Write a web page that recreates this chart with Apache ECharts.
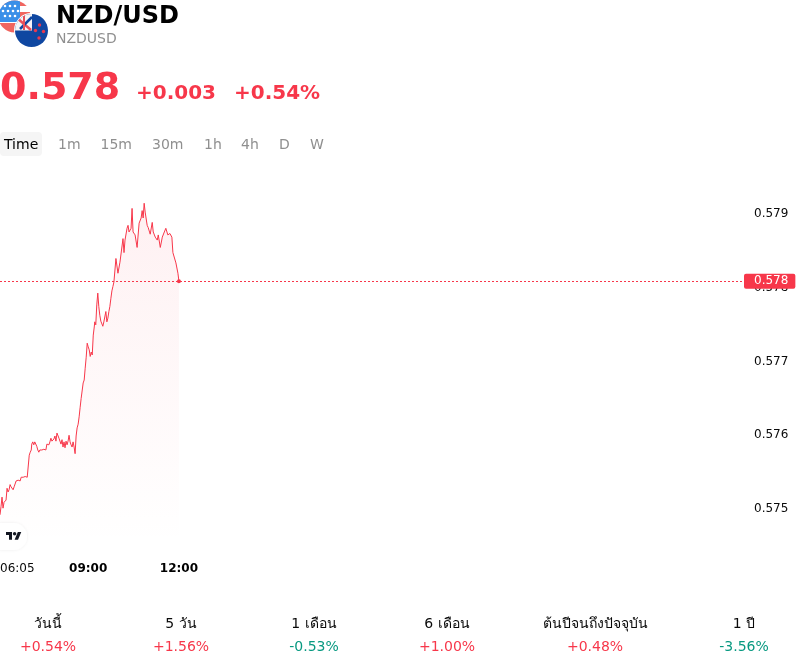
<!DOCTYPE html>
<html>
<head>
<meta charset="utf-8">
<title>NZD/USD</title>
<style>
  html, body { margin: 0; padding: 0; background: #fff; }
  #wrap { position: relative; width: 800px; height: 666px; overflow: hidden; }
  #chart { position: absolute; left: 0; top: 0; width: 800px; height: 666px; }
  .badge { position: absolute; left: 0; top: 0; pointer-events: none; }
</style>
<script src="https://cdn.jsdelivr.net/npm/echarts@6/dist/echarts.min.js"></script>
</head>
<body>
<div id="wrap">
  <div id="chart"></div>
  <!-- currency flags and the small brand badge on the chart corner -->
  <svg class="badge" width="60" height="60" viewBox="0 0 60 60">
    <defs>
      <clipPath id="usClip"><circle cx="14.5" cy="16.5" r="16"/></clipPath>
      <clipPath id="nzClip"><circle cx="31.5" cy="30.5" r="16.5"/></clipPath>
    </defs>
    <g clip-path="url(#usClip)">
      <rect x="-4" y="0" width="40" height="36" fill="#fff"/>
      <rect x="-4" y="0" width="40" height="6" fill="#f0655f"/>
      <rect x="-4" y="12" width="40" height="5" fill="#f0655f"/>
      <rect x="-4" y="23" width="40" height="10" fill="#f0655f"/>
      <rect x="-4" y="0" width="24" height="22" fill="#3a8fe8"/>
      <g fill="#fff">
        <circle cx="5" cy="6" r="1.3"/><circle cx="10" cy="6" r="1.3"/><circle cx="15" cy="6" r="1.3"/>
        <circle cx="3" cy="11" r="1.3"/><circle cx="8" cy="11" r="1.3"/><circle cx="13" cy="11" r="1.3"/><circle cx="18" cy="11" r="1.3"/>
        <circle cx="5" cy="16" r="1.3"/><circle cx="10" cy="16" r="1.3"/><circle cx="15" cy="16" r="1.3"/>
      </g>
    </g>
    <circle cx="31.5" cy="30.5" r="17.5" fill="#fff"/>
    <g clip-path="url(#nzClip)">
      <rect x="14" y="13" width="36" height="36" fill="#0f47a1"/>
      <rect x="14" y="13" width="18" height="17.5" fill="#f4f4f6"/>
      <path d="M17 18 L31 30" stroke="#e8505b" stroke-width="2.5"/>
      <path d="M32 17 L20 29" stroke="#0f47a1" stroke-width="2.5" fill="none"/>
      <path d="M24 14 V30" stroke="#e8505b" stroke-width="2"/>
      <g fill="#e8394e">
        <circle cx="39.5" cy="25" r="1.7"/><circle cx="35.5" cy="30.5" r="1.7"/>
        <circle cx="43.5" cy="31.5" r="1.7"/><circle cx="39" cy="38" r="1.7"/>
      </g>
    </g>
  </svg>
  <svg class="badge" style="top:516px;left:-6px;overflow:visible" width="36" height="40" viewBox="0 0 36 40">
    <defs>
      <filter id="soft" x="-30%" y="-30%" width="160%" height="160%"><feDropShadow dx="0" dy="0" stdDeviation="1.6" flood-color="#000" flood-opacity="0.07"/></filter>
    </defs>
    <rect x="-6" y="7" width="39" height="27" rx="13.5" fill="#fff" filter="url(#soft)"/>
    <g transform="translate(12 14.3) scale(0.43)" fill="#131722">
      <path d="M14 22H7V11H0V4h14v18zM28 22h-8l7.5-18h8L28 22z"/><circle cx="20" cy="8" r="4"/>
    </g>
  </svg>
</div>
<script>
// Quote header
const pairName = 'NZD/USD';
const pairCode = 'NZDUSD';
const changeAbs = '+0.003';
const changePct = '+0.54%';

// Interval selector
const tabLabels = ['Time', '1m', '15m', '30m', '1h', '4h', 'D', 'W'];
const tabLefts = [4, 58, 100.5, 152, 204, 241, 279, 310];

// Session performance strip
const periodNames = ['วันนี้', '5 วัน', '1 เดือน', '6 เดือน', 'ต้นปีจนถึงปัจจุบัน', '1 ปี'];
const periodChanges = ['+0.54%', '+1.56%', '-0.53%', '+1.00%', '+0.48%', '-3.56%'];
const periodCentres = [48, 181, 314, 447, 595, 744];

// Axis ticks
const priceTicks = [0.575, 0.576, 0.577, 0.578, 0.579];
const timeTicks = [0, 175, 355];
const timeTickLabels = ['06:05', '09:00', '12:00'];

// Minutes elapsed since 06:05
const minutes = [
  0, 2, 4, 6, 8, 10, 12, 14, 16, 18, 20, 22, 24, 26, 28, 30, 32, 34, 36, 38,
  40, 42, 44, 46, 48, 50, 52, 54, 56, 58, 60, 62, 63, 65, 67, 69, 71, 73, 75, 77,
  79, 81, 83, 85, 87, 89, 91, 93, 95, 97, 99, 101, 103, 105, 107, 109, 111, 113, 115, 117,
  119, 121, 123, 125, 127, 129, 131, 133, 135, 137, 139, 141, 143, 145, 147, 149, 151, 153, 155, 157,
  159, 161, 163, 165, 167, 169, 171, 173, 175, 177, 179, 181, 183, 185, 187, 188, 190, 192, 194, 196,
  198, 200, 202, 204, 206, 208, 210, 212, 214, 216, 218, 220, 222, 224, 226, 228, 230, 232, 234, 238,
  240, 244, 246, 248, 252, 254, 256, 260, 262, 264, 268, 272, 276, 280, 282, 284, 286, 288, 292, 294,
  298, 302, 304, 308, 312, 314, 318, 322, 326, 329, 333, 337, 341, 343, 349, 353, 355
];

// Last traded price at each of those minutes
const prices = [
  0.57492, 0.57503, 0.57516, 0.57501, 0.57509, 0.57511, 0.57512, 0.57528, 0.57523, 0.57526,
  0.57533, 0.57530, 0.57530, 0.57526, 0.57530, 0.57528, 0.57538, 0.57538, 0.57539, 0.57538,
  0.57538, 0.57543, 0.57545, 0.57543, 0.57543, 0.57544, 0.57543, 0.57543, 0.57543, 0.57573,
  0.57577, 0.57580, 0.57588, 0.57591, 0.57587, 0.57591, 0.57589, 0.57585, 0.57580, 0.57577,
  0.57580, 0.57581, 0.57580, 0.57580, 0.57581, 0.57579, 0.57580, 0.57588, 0.57589, 0.57587,
  0.57591, 0.57596, 0.57592, 0.57592, 0.57595, 0.57599, 0.57592, 0.57603, 0.57603, 0.57596,
  0.57594, 0.57588, 0.57594, 0.57584, 0.57591, 0.57583, 0.57592, 0.57587, 0.57592, 0.57600,
  0.57591, 0.57587, 0.57584, 0.57591, 0.57584, 0.57575, 0.57599, 0.57610, 0.57615, 0.57625,
  0.57638, 0.57650, 0.57652, 0.57671, 0.57675, 0.57691, 0.57706, 0.57725, 0.57720, 0.57716,
  0.57707, 0.57713, 0.57709, 0.57736, 0.57747, 0.57754, 0.57750, 0.57777, 0.57793, 0.57775,
  0.57763, 0.57755, 0.57754, 0.57748, 0.57754, 0.57756, 0.57768, 0.57754, 0.57759, 0.57768,
  0.57775, 0.57786, 0.57796, 0.57802, 0.57808, 0.57809, 0.57840, 0.57842, 0.57820, 0.57835,
  0.57834, 0.57867, 0.57848, 0.57865, 0.57881, 0.57885, 0.57876, 0.57881, 0.57908, 0.57876,
  0.57872, 0.57855, 0.57888, 0.57895, 0.57905, 0.57895, 0.57915, 0.57903, 0.57885, 0.57882,
  0.57873, 0.57889, 0.57876, 0.57869, 0.57865, 0.57872, 0.57855, 0.57869, 0.57876, 0.57881,
  0.57872, 0.57874, 0.57869, 0.57848, 0.57834, 0.57820, 0.57809
];

const FONT = '"DejaVu Sans", "Noto Sans", sans-serif';
const UP = '#f7374a';
const DOWN = '#089981';
const INK = '#0a0a0a';
const MUTED = '#8f8f8f';
const X_MAX = 1476;

const lastPrice = prices[prices.length - 1];
const lastMinute = minutes[minutes.length - 1];
const points = minutes.map((m, i) => [m, prices[i]]);

function label(text, x, y, size, fill, weight, align) {
  return {
    type: 'text', silent: true, x: x, y: y,
    style: {
      text: text, fill: fill, align: align || 'left', verticalAlign: 'middle',
      font: (weight || 'normal') + ' ' + size + 'px ' + FONT
    }
  };
}

const headerItems = [
  label(pairName, 56, 17, 24, '#000', 'bold'),
  label(pairCode, 56, 39, 14, MUTED),
  label(lastPrice.toFixed(3), 0, 89, 38, UP, 'bold'),
  label(changeAbs, 136, 93.5, 20, UP, 'bold'),
  label(changePct, 234, 93.5, 20, UP, 'bold'),
  { type: 'rect', silent: true, shape: { x: 0, y: 132, width: 42, height: 24, r: 4 }, style: { fill: '#f5f5f5' } }
];
const tabItems = tabLabels.map((t, i) => label(t, tabLefts[i], 145, 14, i === 0 ? '#000' : MUTED));
const stripItems = [];
periodNames.forEach((name, i) => {
  stripItems.push(label(name, periodCentres[i], 624, 14, INK, 'normal', 'center'));
  stripItems.push(label(periodChanges[i], periodCentres[i], 647, 14, periodChanges[i][0] === '-' ? DOWN : UP, 'normal', 'center'));
});

const chart = echarts.init(document.getElementById('chart'));
chart.setOption({
  animation: false,
  backgroundColor: '#fff',
  textStyle: { fontFamily: FONT },
  graphic: { elements: headerItems.concat(tabItems, stripItems) },
  grid: { left: 0, top: 190, width: 744, height: 355, containLabel: false, outerBoundsMode: 'none' },
  xAxis: {
    type: 'value', min: 0, max: X_MAX,
    splitLine: { show: false }, axisLine: { show: false }, axisTick: { show: false },
    axisLabel: {
      customValues: timeTicks, margin: 18, alignMinLabel: 'left',
      color: INK, fontSize: 12, fontFamily: FONT,
      formatter: (v) => {
        const i = timeTicks.indexOf(v);
        return i === 0 ? timeTickLabels[i] : '{b|' + timeTickLabels[i] + '}';
      },
      rich: { b: { fontWeight: 'bold', fontSize: 12, color: '#000', fontFamily: FONT } }
    }
  },
  yAxis: {
    type: 'value', position: 'right', min: 0.57451, max: 0.57933,
    splitLine: { show: false }, axisLine: { show: false }, axisTick: { show: false },
    axisLabel: {
      customValues: priceTicks, margin: 10, color: INK, fontSize: 12, fontFamily: FONT,
      formatter: (v) => v.toFixed(3)
    }
  },
  series: [{
    type: 'line', data: points, showSymbol: false, smooth: false, silent: true,
    lineStyle: { color: UP, width: 1 },
    areaStyle: {
      color: new echarts.graphic.LinearGradient(0, 0, 0, 1, [
        { offset: 0, color: 'rgba(247,55,74,0.1)' },
        { offset: 1, color: 'rgba(247,55,74,0)' }
      ])
    },
    markLine: {
      silent: true, symbol: 'none', animation: false,
      lineStyle: { color: UP, width: 1, type: [2, 2], opacity: 1 },
      label: {
        show: true, position: 'end', distance: 0,
        formatter: () => lastPrice.toFixed(3),
        backgroundColor: UP, color: '#fff', fontSize: 12, fontFamily: FONT,
        padding: [2, 7, 1, 10], borderRadius: 2
      },
      data: [[{ coord: [0, lastPrice] }, { coord: [X_MAX, lastPrice] }]]
    },
    markPoint: {
      silent: true, symbol: 'circle', symbolSize: 4, animation: false,
      itemStyle: { color: UP }, label: { show: false },
      data: [{ coord: [lastMinute, lastPrice] }]
    }
  }]
});
</script>
</body>
</html>
